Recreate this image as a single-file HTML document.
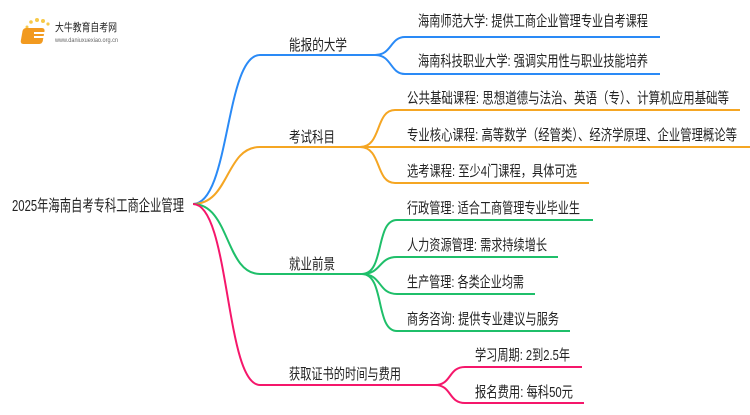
<!DOCTYPE html>
<html><head><meta charset="utf-8"><style>
body{margin:0;background:#fff;}
svg text{font-family:"Liberation Sans","Noto Sans CJK SC",sans-serif;font-size:15px;fill:#222;}
</style></head><body>
<svg width="750" height="410" viewBox="0 0 750 410" xmlns="http://www.w3.org/2000/svg">
<g>
<circle cx="27" cy="27" r="1.5" fill="#f7c948"/><circle cx="31" cy="22" r="1.8" fill="#f7c948"/><circle cx="37" cy="20" r="2" fill="#f7c948"/><circle cx="43" cy="21" r="2" fill="#f7c948"/><circle cx="48" cy="24" r="1.6" fill="#f7c948"/>
<rect x="28" y="28" width="22" height="16" rx="3" fill="#f29a1f" transform="skewX(-10)"/>
<rect x="34" y="32" width="12" height="2" fill="#fff"/><rect x="34" y="36" width="12" height="2" fill="#fff"/>
<text x="55" y="31" style="font-size:11px" textLength="62" lengthAdjust="spacingAndGlyphs">大牛教育自考网</text>
<text x="55" y="42" style="font-size:6px;fill:#666" textLength="63" lengthAdjust="spacingAndGlyphs">www.daniuxuexiao.org.cn</text>
</g>
<g fill="none" stroke-width="2">
<path d="M193 204 C230 204,225 55,260 55 L375 55" stroke="#2a8af6"/>
<path d="M375 55 C392 55,390 37,405 37 L660 37" stroke="#2a8af6"/>
<path d="M375 55 C392 55,390 74,405 74 L660 74" stroke="#2a8af6"/>
<path d="M193 204 C230 204,225 147,260 147 L360 147" stroke="#f5a623"/>
<path d="M360 147 C382 147,375 110,395 110 L740 110" stroke="#f5a623"/>
<path d="M360 147 L750 147" stroke="#f5a623"/>
<path d="M360 147 C382 147,375 183,395 183 L589 183" stroke="#f5a623"/>
<path d="M193 204 C230 204,225 274,260 274 L362 274" stroke="#1fbf6a"/>
<path d="M362 274 C385 274,375 220,397 220 L593 220" stroke="#1fbf6a"/>
<path d="M362 274 C382 274,378 257,397 257 L558 257" stroke="#1fbf6a"/>
<path d="M362 274 C382 274,378 294,397 294 L535 294" stroke="#1fbf6a"/>
<path d="M362 274 C385 274,375 331,397 331 L570 331" stroke="#1fbf6a"/>
<path d="M193 204 C230 204,225 385,260 385 L435 385" stroke="#f5176b"/>
<path d="M435 385 C452 385,448 367,465 367 L582 367" stroke="#f5176b"/>
<path d="M435 385 C452 385,448 403,465 403 L584 403" stroke="#f5176b"/>
</g>
<text x="12" y="211" style="font-size:16px" textLength="172" lengthAdjust="spacingAndGlyphs">2025年海南自考专科工商企业管理</text>
<text x="289" y="50" textLength="58" lengthAdjust="spacingAndGlyphs">能报的大学</text>
<text x="289" y="142" textLength="46" lengthAdjust="spacingAndGlyphs">考试科目</text>
<text x="289" y="269" textLength="46" lengthAdjust="spacingAndGlyphs">就业前景</text>
<text x="289" y="379" textLength="112" lengthAdjust="spacingAndGlyphs">获取证书的时间与费用</text>
<text x="418" y="26" textLength="230" lengthAdjust="spacingAndGlyphs">海南师范大学: 提供工商企业管理专业自考课程</text>
<text x="418" y="66" textLength="230" lengthAdjust="spacingAndGlyphs">海南科技职业大学: 强调实用性与职业技能培养</text>
<text x="407" y="103" textLength="322" lengthAdjust="spacingAndGlyphs">公共基础课程: 思想道德与法治、英语（专）、计算机应用基础等</text>
<text x="407" y="140" textLength="330" lengthAdjust="spacingAndGlyphs">专业核心课程: 高等数学（经管类）、经济学原理、企业管理概论等</text>
<text x="407" y="176" textLength="170" lengthAdjust="spacingAndGlyphs">选考课程: 至少4门课程，具体可选</text>
<text x="407" y="213" textLength="173" lengthAdjust="spacingAndGlyphs">行政管理: 适合工商管理专业毕业生</text>
<text x="407" y="250" textLength="140" lengthAdjust="spacingAndGlyphs">人力资源管理: 需求持续增长</text>
<text x="407" y="287" textLength="117" lengthAdjust="spacingAndGlyphs">生产管理: 各类企业均需</text>
<text x="407" y="324" textLength="152" lengthAdjust="spacingAndGlyphs">商务咨询: 提供专业建议与服务</text>
<text x="475" y="360" textLength="95" lengthAdjust="spacingAndGlyphs">学习周期: 2到2.5年</text>
<text x="475" y="397" textLength="98" lengthAdjust="spacingAndGlyphs">报名费用: 每科50元</text>
</svg>
</body></html>
